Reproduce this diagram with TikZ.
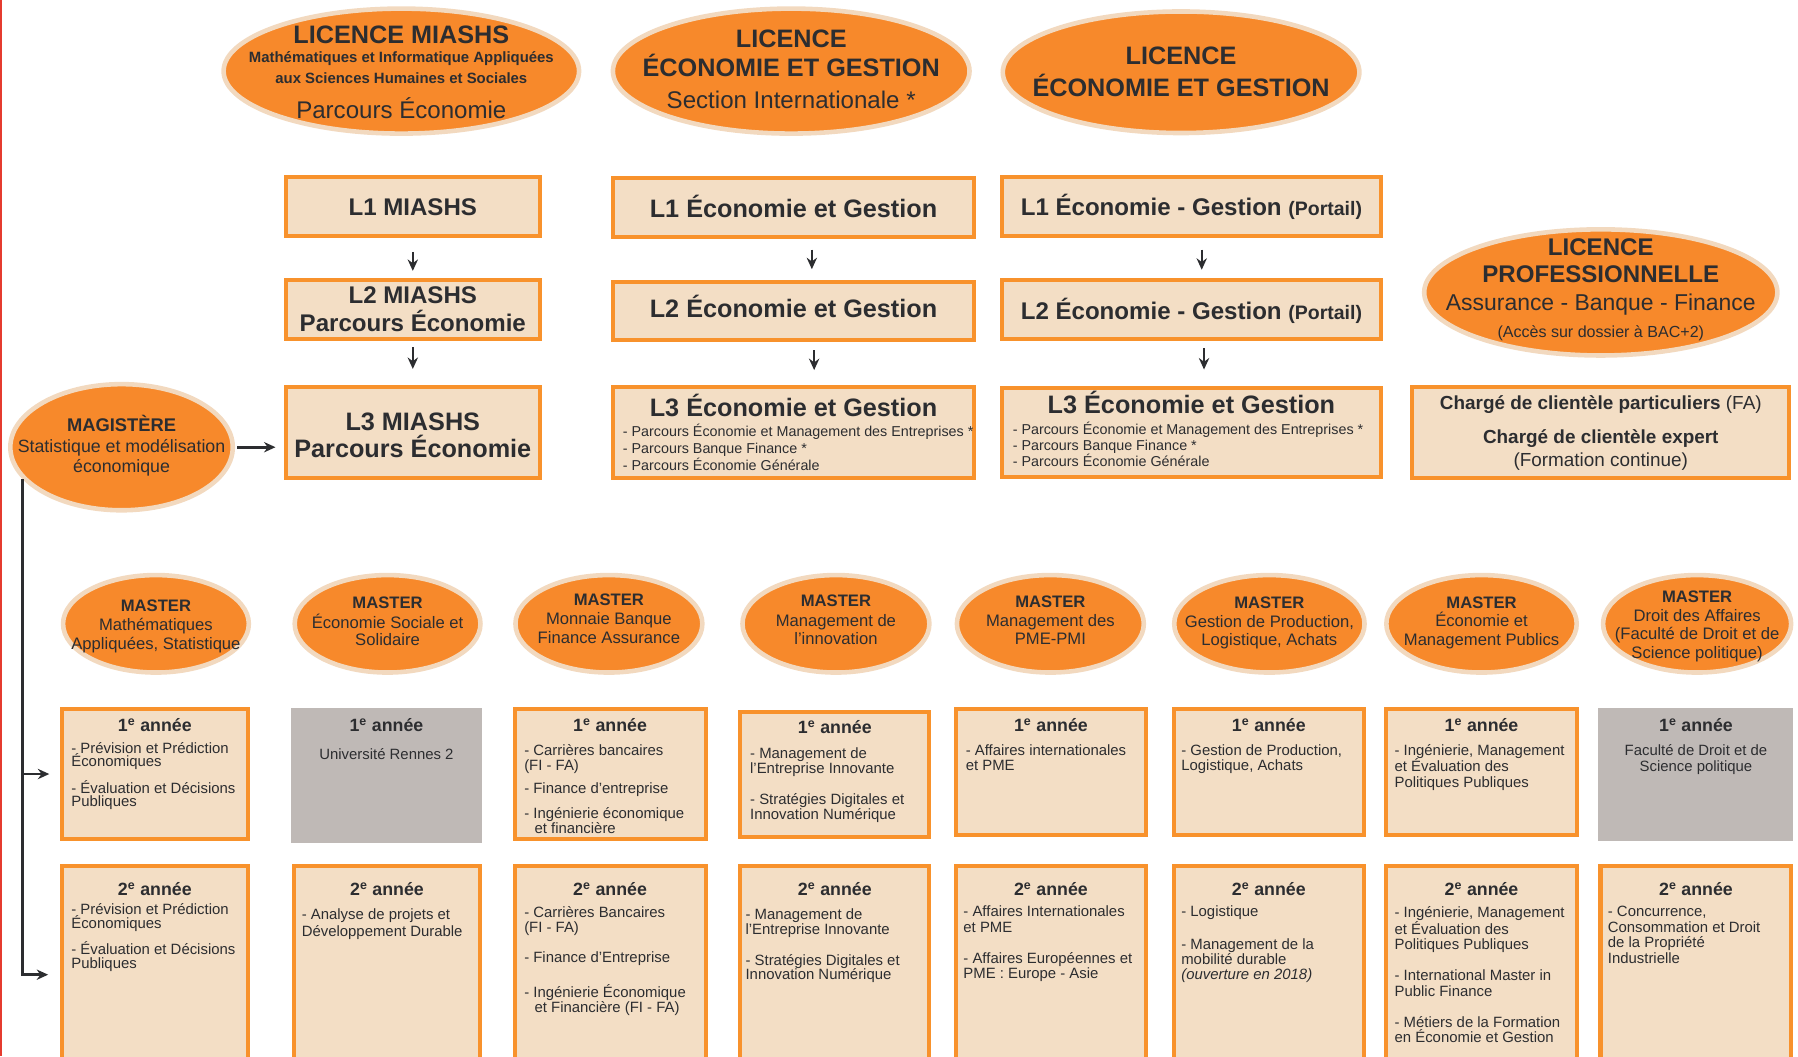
\documentclass[tikz,border=0pt]{standalone}
\usepackage{fontspec}
\setmainfont{Liberation Sans}
\usetikzlibrary{shapes.geometric, arrows.meta, calc}

\definecolor{orangeM}{HTML}{F7892B}
\definecolor{ringM}{HTML}{F2D9BF}
\definecolor{orangeB}{HTML}{F8922C}
\definecolor{peachB}{HTML}{F3DEC5}
\definecolor{grayB}{HTML}{BFB9B6}
\definecolor{darkT}{HTML}{2C2D30}
\definecolor{redL}{HTML}{E53B2F}

\tikzset{
	oval/.style={ellipse, fill=orangeM, draw=ringM, line width=4pt, inner sep=0pt},
	lbox/.style={rectangle, fill=peachB, draw=orangeB, line width=3.5pt, inner sep=0pt},
	gbox/.style={rectangle, fill=grayB, inner sep=0pt},
	lab/.style={anchor=base, inner sep=0pt, text=darkT},
	items/.style={anchor=north west, align=left, inner sep=0pt, text=darkT, font=\fontsize{13}{12.5}\selectfont},
	arr/.style={draw=darkT, line width=2pt, -{Stealth[length=10pt, width=9pt]}},
	ttl/.style={lab, font=\bfseries\fontsize{15.5}{18}\selectfont},
	mst/.style={lab, font=\fontsize{14.5}{16}\selectfont},
	msthead/.style={lab, font=\bfseries\fontsize{14.5}{16}\selectfont},
}

\begin{document}
\begin{tikzpicture}[x=1pt, y=-1pt]
	\useasboundingbox (0, 0) rectangle (1568, 921);
	\clip (0, 0) rectangle (1568, 921);
	% Ovals, boxes, texts and arrows:
	\draw[draw=redL, line width=2pt] (1, 0) -- (1, 921);
	\node[oval, minimum width=310pt, minimum height=109pt] (licm) at (350, 62){};
	\node[lab, font=\bfseries\fontsize{22}{24}\selectfont] (licm1) at (350, 38){LICENCE MIASHS};
	\node[lab, font=\bfseries\fontsize{13}{14}\selectfont] (licm2) at (350, 54.5){Mathématiques et Informatique Appliquées};
	\node[lab, font=\bfseries\fontsize{13}{14}\selectfont] (licm3) at (350, 72.5){aux Sciences Humaines et Sociales};
	\node[lab, font=\fontsize{21}{24}\selectfont] (licm4) at (350, 103){Parcours Économie};
	\node[oval, minimum width=311pt, minimum height=109pt] (licsi) at (690, 62){};
	\node[lab, font=\bfseries\fontsize{22}{24}\selectfont] (licsi1) at (690, 41){LICENCE};
	\node[lab, font=\bfseries\fontsize{22}{24}\selectfont] (licsi2) at (690, 67){ÉCONOMIE ET GESTION};
	\node[lab, font=\fontsize{21}{24}\selectfont] (licsi3) at (690, 95){Section Internationale *};
	\node[oval, minimum width=311pt, minimum height=106pt] (liceg) at (1030, 63){};
	\node[lab, font=\bfseries\fontsize{22}{24}\selectfont] (liceg1) at (1030, 56){LICENCE};
	\node[lab, font=\bfseries\fontsize{22}{24}\selectfont] (liceg2) at (1030, 84){ÉCONOMIE ET GESTION};

	\node[lbox, minimum width=222pt, minimum height=52pt] (l1m) at (360, 180){};
	\node[lab, font=\bfseries\fontsize{21}{24}\selectfont] (l1mt) at (360, 187.5){L1 MIASHS};
	\node[lbox, minimum width=315pt, minimum height=52pt] (l1e) at (692, 181){};
	\node[lab, font=\bfseries\fontsize{22}{24}\selectfont] (l1et) at (692, 190){L1 Économie et Gestion};
	\node[lbox, minimum width=331pt, minimum height=52pt] (l1p) at (1039, 180){};
	\node[lab, font=\bfseries\fontsize{21}{24}\selectfont] (l1pt) at (1039, 188){L1 Économie - Gestion {\fontsize{17}{20}\selectfont (Portail)}};

	\node[lbox, minimum width=222pt, minimum height=52pt] (l2m) at (360, 270){};
	\node[lab, font=\bfseries\fontsize{21}{24}\selectfont] (l2mt) at (360, 264.5){L2 MIASHS};
	\node[lab, font=\bfseries\fontsize{21}{24}\selectfont] (l2ms) at (360, 289){Parcours Économie};
	\node[lbox, minimum width=315pt, minimum height=51pt] (l2e) at (692, 271){};
	\node[lab, font=\bfseries\fontsize{22}{24}\selectfont] (l2et) at (692, 277){L2 Économie et Gestion};
	\node[lbox, minimum width=331pt, minimum height=52pt] (l2p) at (1039, 270){};
	\node[lab, font=\bfseries\fontsize{21}{24}\selectfont] (l2pt) at (1039, 279){L2 Économie - Gestion {\fontsize{17}{20}\selectfont (Portail)}};

	\node[lbox, minimum width=222pt, minimum height=79pt] (l3m) at (360, 377){};
	\node[lab, font=\bfseries\fontsize{22}{24}\selectfont] (l3mt) at (360, 375){L3 MIASHS};
	\node[lab, font=\bfseries\fontsize{22}{24}\selectfont] (l3ms) at (360, 399){Parcours Économie};
	\node[lbox, minimum width=315pt, minimum height=79pt] (l3e) at (692, 377){};
	\node[lab, font=\bfseries\fontsize{22}{24}\selectfont] (l3et) at (692, 363){L3 Économie et Gestion};
	\node[items, font=\fontsize{12.5}{14.5}\selectfont] (l3ex) at (543, 370){- Parcours Économie et Management des Entreprises *\\- Parcours Banque Finance *\\- Parcours Économie Générale};
	\node[lbox, minimum width=331pt, minimum height=78pt] (l3p) at (1039, 377){};
	\node[lab, font=\bfseries\fontsize{22}{24}\selectfont] (l3pt) at (1039, 361){L3 Économie et Gestion};
	\node[items, font=\fontsize{12.5}{14}\selectfont] (l3px) at (883, 368){- Parcours Économie et Management des Entreprises *\\- Parcours Banque Finance *\\- Parcours Économie Générale};

	\node[oval, minimum width=308pt, minimum height=110pt] (licpro) at (1396, 255){};
	\node[lab, font=\bfseries\fontsize{21}{24}\selectfont] (licpro1) at (1396, 222.5){LICENCE};
	\node[lab, font=\bfseries\fontsize{21}{24}\selectfont] (licpro2) at (1396, 246.5){PROFESSIONNELLE};
	\node[lab, font=\fontsize{20}{24}\selectfont] (licpro3) at (1396, 271){Assurance - Banque - Finance};
	\node[lab, font=\fontsize{14}{16}\selectfont] (licpro4) at (1396, 294){(Accès sur dossier à BAC+2)};
	\node[lbox, minimum width=329pt, minimum height=79pt] (charge) at (1396, 377){};
	\node[lab, font=\bfseries\fontsize{16.5}{19}\selectfont] (charge1) at (1396, 357){Chargé de clientèle particuliers {\mdseries (FA)}};
	\node[lab, font=\bfseries\fontsize{16.5}{19}\selectfont] (charge2) at (1396, 387){Chargé de clientèle expert};
	\node[lab, font=\fontsize{16.5}{19}\selectfont] (charge3) at (1396, 407){(Formation continue)};

	\node[oval, minimum width=194pt, minimum height=110pt] (mag) at (106, 390){};
	\node[lab, font=\bfseries\fontsize{16}{18}\selectfont] (mag1) at (106, 376){MAGISTÈRE};
	\node[lab, font=\fontsize{15.5}{18}\selectfont] (mag2) at (106, 394.5){Statistique et modélisation};
	\node[lab, font=\fontsize{15.5}{18}\selectfont] (mag3) at (106, 412){économique};

	\draw[arr, shorten <=12pt, shorten >=6pt] (l1m) -- (l2m);
	\draw[arr, shorten <=9pt, shorten >=9pt] ($(l1e.south)+(16, 0)$) -- ($(l2e.north)+(16, 0)$);
	\draw[arr, shorten <=10pt, shorten >=7pt] ($(l1p.south)+(9, 0)$) -- ($(l2p.north)+(9, 0)$);
	\draw[arr, shorten <=5pt, shorten >=14pt] (l2m) -- (l3m);
	\draw[arr, shorten <=7pt, shorten >=13pt] ($(l2e.south)+(18, 0)$) -- ($(l3e.north)+(18, 0)$);
	\draw[arr, shorten <=6pt, shorten >=14pt] ($(l2p.south)+(11, 0)$) -- ($(l3p.north)+(11, 0)$);
	\draw[arr, line width=2.4pt, shorten <=2pt, shorten >=7pt] (mag.east) -- (mag.east -| l3m.west);

	\node[oval, minimum width=162pt, minimum height=85pt] (m1) at (136, 544){};
	\node[msthead] (m1a) at (136, 533){MASTER};
	\node[mst] (m1b) at (136, 550){Mathématiques};
	\node[mst] (m1c) at (136, 566){Appliquées, Statistique};
	\node[oval, minimum width=162pt, minimum height=85pt] (m2) at (338, 544){};
	\node[msthead] (m2a) at (338, 531){MASTER};
	\node[mst] (m2b) at (338, 548){Économie Sociale et};
	\node[mst] (m2c) at (338, 563){Solidaire};
	\node[oval, minimum width=163pt, minimum height=85pt] (m3) at (531, 544){};
	\node[msthead] (m3a) at (531, 528){MASTER};
	\node[mst] (m3b) at (531, 545){Monnaie Banque};
	\node[mst] (m3c) at (531, 561){Finance Assurance};
	\node[oval, minimum width=163pt, minimum height=85pt] (m4) at (729, 544){};
	\node[msthead] (m4a) at (729, 529){MASTER};
	\node[mst] (m4b) at (729, 546){Management de};
	\node[mst] (m4c) at (729, 562){l’innovation};
	\node[oval, minimum width=163pt, minimum height=85pt] (m5) at (916, 544){};
	\node[msthead] (m5a) at (916, 530){MASTER};
	\node[mst] (m5b) at (916, 546){Management des};
	\node[mst] (m5c) at (916, 562){PME-PMI};
	\node[oval, minimum width=166pt, minimum height=85pt] (m6) at (1107, 544){};
	\node[msthead] (m6a) at (1107, 531){MASTER};
	\node[mst] (m6b) at (1107, 547){Gestion de Production,};
	\node[mst] (m6c) at (1107, 563){Logistique, Achats};
	\node[oval, minimum width=166pt, minimum height=85pt] (m7) at (1292, 544){};
	\node[msthead] (m7a) at (1292, 531){MASTER};
	\node[mst] (m7b) at (1292, 546){Économie et};
	\node[mst] (m7c) at (1292, 563){Management Publics};
	\node[oval, minimum width=164pt, minimum height=85pt] (m8) at (1480, 544){};
	\node[msthead] (m8a) at (1480, 525){MASTER};
	\node[mst] (m8b) at (1480, 542){Droit des Affaires};
	\node[mst] (m8c) at (1480, 558){(Faculté de Droit et de};
	\node[mst] (m8d) at (1480, 574){Science politique)};

	\node[lbox, minimum width=162.5pt, minimum height=113pt] (c1) at (135, 675){};
	\node[ttl] (c1t) at (135, 638){1\textsuperscript{e} année};
	\node[items, font=\fontsize{13}{12}\selectfont] (c1x) at (62, 647){- Prévision et Prédiction\\Économiques\\[8pt]- Évaluation et Décisions\\Publiques};
	\node[gbox, minimum width=166pt, minimum height=118pt] (c2) at (337, 676){};
	\node[ttl] (c2t) at (337, 638){1\textsuperscript{e} année};
	\node[lab, font=\fontsize{13}{15}\selectfont] (c2x) at (337, 662.5){Université Rennes 2};
	\node[lbox, minimum width=166.5pt, minimum height=113pt] (c3) at (532, 675){};
	\node[ttl] (c3t) at (532, 638){1\textsuperscript{e} année};
	\node[items, font=\fontsize{13}{13}\selectfont] (c3x) at (457, 649){- Carrières bancaires\\(FI - FA)\\[7pt]- Finance d’entreprise\\[9pt]- Ingénierie économique\\\hspace*{9pt}et financière};
	\node[lbox, minimum width=164.5pt, minimum height=109pt] (c4) at (728, 675){};
	\node[ttl] (c4t) at (728, 640){1\textsuperscript{e} année};
	\node[items, font=\fontsize{13}{13}\selectfont] (c4x) at (654, 652){- Management de\\l’Entreprise Innovante\\[14pt]- Stratégies Digitales et\\Innovation Numérique};
	\node[lbox, minimum width=165.5pt, minimum height=110pt] (c5) at (916.5, 673.5){};
	\node[ttl] (c5t) at (916.5, 638){1\textsuperscript{e} année};
	\node[items, font=\fontsize{13}{13}\selectfont] (c5x) at (842, 649){- Affaires internationales\\et PME};
	\node[lbox, minimum width=165.5pt, minimum height=110pt] (c6) at (1106.5, 673.5){};
	\node[ttl] (c6t) at (1106.5, 638){1\textsuperscript{e} année};
	\node[items, font=\fontsize{13}{13}\selectfont] (c6x) at (1030, 649){- Gestion de Production,\\Logistique, Achats};
	\node[lbox, minimum width=166.5pt, minimum height=110pt] (c7) at (1292, 673.5){};
	\node[ttl] (c7t) at (1292, 638){1\textsuperscript{e} année};
	\node[items, font=\fontsize{13}{14}\selectfont] (c7x) at (1216, 649){- Ingénierie, Management\\et Évaluation des\\Politiques Publiques};
	\node[gbox, minimum width=170pt, minimum height=116pt] (c8) at (1479, 675){};
	\node[ttl] (c8t) at (1479, 638){1\textsuperscript{e} année};
	\node[items, anchor=north, align=center, font=\fontsize{13}{14}\selectfont] (c8x) at (1479, 649){Faculté de Droit et de\\Science politique};

	\node[lbox, minimum width=162.5pt, minimum height=190pt] (d1) at (135, 850){};
	\node[ttl] (d1t) at (135, 780.5){2\textsuperscript{e} année};
	\node[items, font=\fontsize{13}{12}\selectfont] (d1x) at (62, 788){- Prévision et Prédiction\\Économiques\\[8pt]- Évaluation et Décisions\\Publiques};
	\node[lbox, minimum width=161.5pt, minimum height=190pt] (d2) at (337.5, 850){};
	\node[ttl] (d2t) at (337.5, 780.5){2\textsuperscript{e} année};
	\node[items, font=\fontsize{13}{15}\selectfont] (d2x) at (263, 792){- Analyse de projets et\\Développement Durable};
	\node[lbox, minimum width=166.5pt, minimum height=190pt] (d3) at (532, 850){};
	\node[ttl] (d3t) at (532, 780.5){2\textsuperscript{e} année};
	\node[items, font=\fontsize{13}{13}\selectfont] (d3x) at (457, 790){- Carrières Bancaires\\(FI - FA)\\[14pt]- Finance d’Entreprise\\[15pt]- Ingénierie Économique\\\hspace*{9pt}et Financière (FI - FA)};
	\node[lbox, minimum width=164.5pt, minimum height=190pt] (d4) at (728, 850){};
	\node[ttl] (d4t) at (728, 780.5){2\textsuperscript{e} année};
	\node[items, font=\fontsize{13}{13}\selectfont] (d4x) at (650, 792){- Management de\\l’Entreprise Innovante\\[14pt]- Stratégies Digitales et\\Innovation Numérique};
	\node[lbox, minimum width=165.5pt, minimum height=190pt] (d5) at (916.5, 850){};
	\node[ttl] (d5t) at (916.5, 780.5){2\textsuperscript{e} année};
	\node[items, font=\fontsize{13}{13.5}\selectfont] (d5x) at (840, 790){- Affaires Internationales\\et PME\\[13.5pt]- Affaires Européennes et\\PME : Europe - Asie};
	\node[lbox, minimum width=165.5pt, minimum height=190pt] (d6) at (1106.5, 850){};
	\node[ttl] (d6t) at (1106.5, 780.5){2\textsuperscript{e} année};
	\node[items, font=\fontsize{13}{13.5}\selectfont] (d6x) at (1030, 790){- Logistique\\[14.5pt]- Management de la\\mobilité durable\\\textit{(ouverture en 2018)}};
	\node[lbox, minimum width=166.5pt, minimum height=190pt] (d7) at (1292, 850){};
	\node[ttl] (d7t) at (1292, 780.5){2\textsuperscript{e} année};
	\node[items, font=\fontsize{13}{13.5}\selectfont] (d7x) at (1216, 790){- Ingénierie, Management\\et Évaluation des\\Politiques Publiques\\[13.5pt]- International Master in\\Public Finance\\[13.5pt]- Métiers de la Formation\\en Économie et Gestion};
	\node[lbox, minimum width=166.5pt, minimum height=190pt] (d8) at (1479, 850){};
	\node[ttl] (d8t) at (1479, 780.5){2\textsuperscript{e} année};
	\node[items, font=\fontsize{13}{13.7}\selectfont] (d8x) at (1402, 790){- Concurrence,\\Consommation et Droit\\de la Propriété\\Industrielle};

	\draw[arr, line width=2.4pt, shorten >=10pt] (mag.198) |- (d1.west);
	\draw[arr, line width=2.4pt, shorten >=9pt] (c1.west -| mag.198) -- (c1.west);
\end{tikzpicture}
\end{document}
